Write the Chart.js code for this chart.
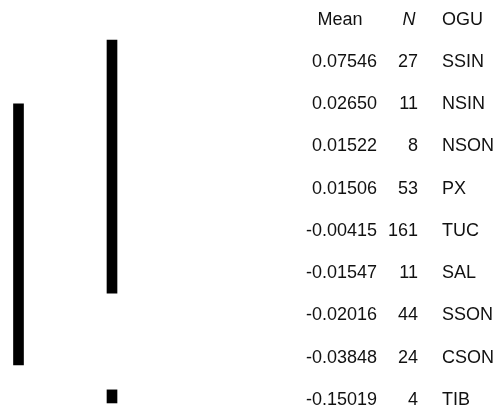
<!DOCTYPE html>
<html>
<head>
<meta charset="utf-8">
<script src="https://cdn.jsdelivr.net/npm/chart.js@4/dist/chart.umd.min.js"></script>
<style>
    html, body { margin: 0; padding: 0; background: #fff; }
    #wrap { width: 503px; height: 412px; position: relative; }
</style>
</head>
<body>
<div id="wrap"><canvas id="subsetChart"></canvas></div>
<script>
// table rows (row 1..9), header is row 0
const ogus = ['SSIN', 'NSIN', 'NSON', 'PX', 'TUC', 'SAL', 'SSON', 'CSON', 'TIB'];
const means = ['0.07546', '0.02650', '0.01522', '0.01506', '-0.00415', '-0.01547', '-0.02016', '-0.03848', '-0.15019'];
const counts = [27, 11, 8, 53, 161, 11, 44, 24, 4];
const headers = ['Mean', 'N', 'OGU'];

// homogeneous subset bars, in row units (column position in px along x)
const barColumns = [18.5, 112, 112];
const barStarts = [1.99, 0.48, 8.76];
const barEnds = [8.17, 6.47, 9.07];

const FONT = '"Liberation Sans", Arial, sans-serif';

const tablePlugin = {
    id: 'tableText',
    afterDraw(chart) {
        const ctx = chart.ctx;
        const x = chart.scales.x;
        const y = chart.scales.y;
        ctx.save();
        ctx.fillStyle = '#111';
        ctx.textBaseline = 'middle';
        ctx.font = '18px ' + FONT;

        // header
        ctx.textAlign = 'center';
        ctx.fillText(headers[0], x.getPixelForValue(340), y.getPixelForValue(0));
        ctx.font = 'italic 18px ' + FONT;
        ctx.fillText(headers[1], x.getPixelForValue(409), y.getPixelForValue(0));
        ctx.font = '18px ' + FONT;
        ctx.textAlign = 'left';
        ctx.fillText(headers[2], x.getPixelForValue(442), y.getPixelForValue(0));

        ogus.forEach((name, i) => {
            const py = y.getPixelForValue(i + 1);
            ctx.textAlign = 'right';
            ctx.fillText(means[i], x.getPixelForValue(377), py);
            ctx.fillText(String(counts[i]), x.getPixelForValue(418), py);
            ctx.textAlign = 'left';
            ctx.fillText(name, x.getPixelForValue(442), py);
        });
        ctx.restore();
    }
};

new Chart(document.getElementById('subsetChart'), {
    type: 'bar',
    data: {
        datasets: [{
            data: barColumns.map((c, i) => ({ x: c, y: [barStarts[i], barEnds[i]] })),
            backgroundColor: '#000',
            borderWidth: 0,
            barThickness: 10
        }]
    },
    options: {
        responsive: true,
        maintainAspectRatio: false,
        animation: false,
        layout: { padding: 0 },
        plugins: {
            legend: { display: false },
            tooltip: { enabled: false }
        },
        scales: {
            x: {
                type: 'linear',
                min: 0,
                max: 503,
                offset: false,
                display: false
            },
            y: {
                type: 'linear',
                min: -0.467,
                max: 9.284,
                reverse: true,
                display: false
            }
        }
    },
    plugins: [tablePlugin]
});
</script>
</body>
</html>
